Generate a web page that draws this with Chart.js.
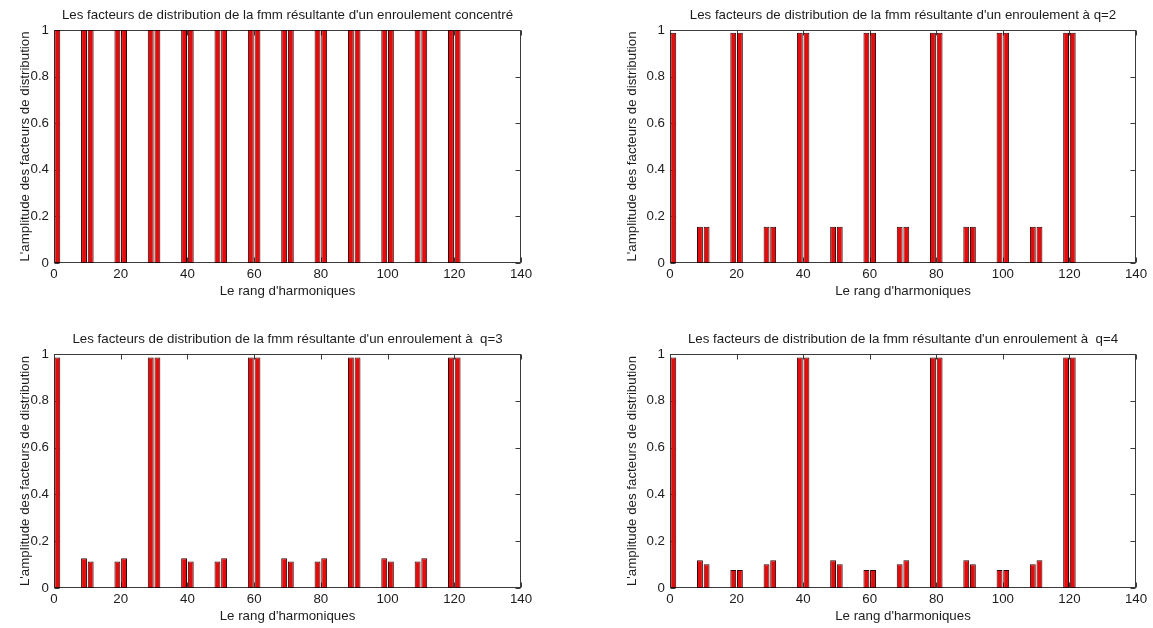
<!DOCTYPE html>
<html>
<head>
<meta charset="utf-8">
<title>Facteurs de distribution</title>
<script src="https://cdn.jsdelivr.net/npm/chart.js@4.4.0/dist/chart.umd.min.js"></script>
<style>
  html, body { margin: 0; padding: 0; background: #ffffff; overflow: hidden; }
  #wrap { position: relative; width: 1153px; height: 628px; background: #ffffff; }
  canvas { position: absolute; }
</style>
</head>
<body>
<div id="wrap">
  <canvas id="c1" width="576" height="314" style="left:0px;top:0px"></canvas>
  <canvas id="c2" width="577" height="314" style="left:576px;top:0px"></canvas>
  <canvas id="c3" width="576" height="314" style="left:0px;top:314px"></canvas>
  <canvas id="c4" width="577" height="314" style="left:576px;top:314px"></canvas>
</div>
<script>
// Harmonic ranks (5-phase winding: 10k ± 1)
const harmoniques = [1, 9, 11, 19, 21, 29, 31, 39, 41, 49, 51, 59, 61,
                     69, 71, 79, 81, 89, 91, 99, 101, 109, 111, 119, 121];

// Distribution factor amplitudes for each winding
const kdConcentre = [1, 1, 1, 1, 1, 1, 1, 1, 1, 1, 1, 1, 1,
                     1, 1, 1, 1, 1, 1, 1, 1, 1, 1, 1, 1];
const kdQ2 = [0.988, 0.156, 0.156, 0.988, 0.988, 0.156, 0.156, 0.988, 0.988, 0.156, 0.156, 0.988, 0.988,
              0.156, 0.156, 0.988, 0.988, 0.156, 0.156, 0.988, 0.988, 0.156, 0.156, 0.988, 0.988];
const kdQ3 = [0.985, 0.127, 0.113, 0.113, 0.127, 0.985, 0.985, 0.127, 0.113, 0.113, 0.127, 0.985, 0.985,
              0.127, 0.113, 0.113, 0.127, 0.985, 0.985, 0.127, 0.113, 0.113, 0.127, 0.985, 0.985];
const kdQ4 = [0.985, 0.119, 0.102, 0.077, 0.077, 0.102, 0.119, 0.985, 0.985, 0.119, 0.102, 0.077, 0.077,
              0.102, 0.119, 0.985, 0.985, 0.119, 0.102, 0.077, 0.077, 0.102, 0.119, 0.985, 0.985];

const titres = [
  "Les facteurs de distribution de la fmm résultante d'un enroulement concentré",
  "Les facteurs de distribution de la fmm résultante d'un enroulement à q=2",
  "Les facteurs de distribution de la fmm résultante d'un enroulement à  q=3",
  "Les facteurs de distribution de la fmm résultante d'un enroulement à  q=4"
];
const xLabel = "Le rang d'harmoniques";
const yLabel = "L'amplitude des facteurs de distribution";
const xMin = 0, xMax = 140, xStep = 20;
const yMin = 0, yMax = 1, yStep = 0.2;

const FONT = "'Liberation Sans', Arial, sans-serif";
const FSIZE = 13.3;
const TEXT = '#1c1c1c';
const AXIS = '#3a3a3a';
const BAR_FILL = '#e30b0b';
const BAR_EDGE = '#2b0505';
const HALF_LINE = FSIZE * 1.2 / 2;

// Box around the plot area with short inward ticks on all four sides (drawn under the bars)
const boxPlugin = {
  id: 'boxTicks',
  beforeDatasetsDraw(chart) {
    const { ctx, chartArea: a, scales } = chart;
    const L = Math.round(a.left) + 0.5, R = Math.round(a.right) - 0.5;
    const T = Math.round(a.top) + 0.5, B = Math.round(a.bottom) - 0.5;
    const len = 5;
    ctx.save();
    ctx.strokeStyle = AXIS;
    ctx.lineWidth = 1;
    ctx.beginPath();
    scales.x.ticks.forEach(t => {
      const px = Math.round(scales.x.getPixelForValue(t.value)) + 0.5;
      ctx.moveTo(px, B); ctx.lineTo(px, B - len);
      ctx.moveTo(px, T); ctx.lineTo(px, T + len);
    });
    scales.y.ticks.forEach(t => {
      const py = Math.round(scales.y.getPixelForValue(t.value)) + 0.5;
      ctx.moveTo(L, py); ctx.lineTo(L + len, py);
      ctx.moveTo(R, py); ctx.lineTo(R - len, py);
    });
    ctx.stroke();
    ctx.strokeRect(L, T, R - L, B - T);
    ctx.restore();
  }
};

// One subplot: plot-area edges and text centres given in canvas pixels
function subplot(id, titre, valeurs, g) {
  const el = document.getElementById(id);
  const W = el.width, H = el.height;
  const font = { family: FONT, size: FSIZE };
  return new Chart(el, {
    type: 'bar',
    data: {
      datasets: [{
        data: harmoniques.map((h, i) => ({ x: h, y: valeurs[i] })),
        backgroundColor: BAR_FILL,
        borderColor: BAR_EDGE,
        borderWidth: 1,
        borderSkipped: false,
        barPercentage: 0.88,
        categoryPercentage: 1.0
      }]
    },
    options: {
      responsive: false,
      animation: false,
      devicePixelRatio: 1,
      layout: { padding: { left: 0, top: 0, right: W - g.R, bottom: 0 } },
      plugins: { legend: { display: false }, title: { display: false }, tooltip: { enabled: false } },
      scales: {
        x: {
          type: 'linear', position: 'bottom', min: xMin, max: xMax, offset: false,
          grid: { display: false, drawTicks: false }, border: { display: false },
          ticks: { stepSize: xStep, padding: 3, color: TEXT, font, maxRotation: 0 },
          title: { display: true, text: xLabel, color: TEXT, font,
                   padding: { top: 0, bottom: H - g.xl - HALF_LINE } },
          afterFit(s) { s.height = H - g.B; }
        },
        head: {
          type: 'linear', position: 'top', axis: 'x', min: xMin, max: xMax,
          grid: { display: false, drawTicks: false }, border: { display: false },
          ticks: { display: false },
          title: { display: true, text: titre, color: TEXT, font,
                   padding: { top: g.tt - HALF_LINE, bottom: 0 } },
          afterFit(s) { s.height = g.T; }
        },
        y: {
          type: 'linear', position: 'left', min: yMin, max: yMax,
          grid: { display: false, drawTicks: false }, border: { display: false },
          ticks: { stepSize: yStep, padding: 5, color: TEXT, font,
                   callback: v => String(Math.round(v * 10) / 10) },
          title: { display: true, text: yLabel, color: TEXT, font,
                   padding: { top: g.yl - HALF_LINE, bottom: 0 } },
          afterFit(s) { s.width = g.L; }
        }
      }
    },
    plugins: [boxPlugin]
  });
}

subplot('c1', titres[0], kdConcentre, { L: 54, T: 30, R: 521, B: 263, tt: 15, yl: 25, xl: 291 });
subplot('c2', titres[1], kdQ2,        { L: 94, T: 30, R: 560, B: 263, tt: 15, yl: 56, xl: 291 });
subplot('c3', titres[2], kdQ3,        { L: 54, T: 40, R: 521, B: 274, tt: 25, yl: 25, xl: 302 });
subplot('c4', titres[3], kdQ4,        { L: 94, T: 40, R: 560, B: 274, tt: 25, yl: 56, xl: 302 });
</script>
</body>
</html>
